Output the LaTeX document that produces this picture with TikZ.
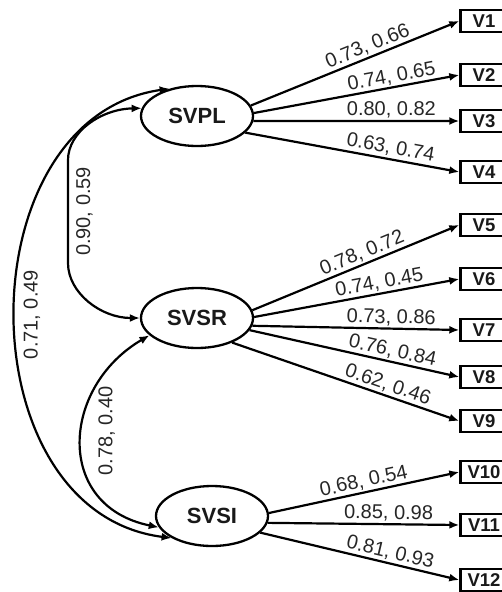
\documentclass[tikz,border=0pt]{standalone}
\usepackage{fontspec}
\setmainfont{Liberation Sans}
\usetikzlibrary{arrows.meta,shapes.geometric}

\begin{document}
\begin{tikzpicture}[
        x=1pt, y=1pt,
        >={Latex[length=10pt,width=8pt]},
        every node/.style={align=center},
        latent/.style={draw, ellipse, line width=2.3pt, minimum width=112pt, minimum height=60pt, inner sep=0pt, font=\fontsize{22}{24}\selectfont\bfseries, text=black!90},
        indicator/.style={draw, line width=2.4pt, minimum width=47pt, minimum height=22pt, inner sep=0pt, font=\fontsize{18.5}{20}\selectfont\bfseries, text=black!90},
        load/.style={->, line width=2.2pt},
        coef/.style={sloped, above, inner sep=1.5pt, text=black!85, font=\fontsize{20}{22}\selectfont},
        corr/.style={<->, line width=2.2pt},
        corrlabel/.style={rotate=90, anchor=north, inner sep=7pt, text=black!85, font=\fontsize{20}{22}\selectfont}
    ]
        \useasboundingbox (0,0) rectangle (502,-592);

        \node[latent] (SVPL) at (197,-116) {SVPL};
        \node[latent] (SVSR) at (197,-318) {SVSR};
        \node[latent] (SVSI) at (212,-516) {SVSI};

        \node[indicator] (V1) at (484,-21) {V1};
        \node[indicator] (V2) at (484,-75) {V2};
        \node[indicator] (V3) at (484,-121) {V3};
        \node[indicator] (V4) at (484,-172) {V4};
        \node[indicator] (V5) at (484,-225) {V5};
        \node[indicator] (V6) at (484,-279) {V6};
        \node[indicator] (V7) at (484,-330) {V7};
        \node[indicator] (V8) at (484,-377) {V8};
        \node[indicator] (V9) at (484,-421) {V9};
        \node[indicator] (V10) at (484,-472) {V10};
        \node[indicator] (V11) at (484,-525) {V11};
        \node[indicator] (V12) at (484,-580) {V12};

        % loadings
        \draw[load] (SVPL.11) -- node[coef, pos=0.58] {0.73, 0.66} (V1.west);
        \draw[load] (SVPL.3) -- node[coef, pos=0.68] {0.74, 0.65} (V2.west);
        \draw[load] (SVPL.-5) -- node[coef, pos=0.67] {0.80, 0.82} (V3.west);
        \draw[load] (SVPL.-19) -- node[coef, pos=0.67] {0.63, 0.74} (V4.west);

        \draw[load] (SVSR.8) -- node[coef, pos=0.55] {0.78, 0.72} (V5.west);
        \draw[load] (SVSR.1) -- node[coef, pos=0.62] {0.74, 0.45} (V6.west);
        \draw[load] (SVSR.-8) -- node[coef, pos=0.67] {0.73, 0.86} (V7.west);
        \draw[load] (SVSR.-13) -- node[coef, pos=0.67] {0.76, 0.84} (V8.west);
        \draw[load] (SVSR.-35) -- node[coef, pos=0.67] {0.62, 0.46} (V9.west);

        \draw[load] (SVSI.3) -- node[coef, pos=0.51] {0.68, 0.54} (V10.west);
        \draw[load] (SVSI.-7) -- node[coef, pos=0.63] {0.85, 0.98} (V11.west);
        \draw[load] (SVSI.-19) -- node[coef, pos=0.64] {0.81, 0.93} (V12.west);

        % correlations
        \draw[corr] (SVPL.172) .. controls (101,-109) and (68,-132) .. (68,-160)
            -- node[corrlabel] {0.90, 0.59} (68,-263)
            .. controls (68,-293) and (101,-318) .. (SVSR.west);
        \draw[corr] (SVSR.200) .. controls (61,-387) and (54,-506) .. node[corrlabel, inner sep=15pt, pos=0.45] {0.78, 0.40} (SVSI.192);
        \draw[corr] (SVPL.135) .. controls (-36,-118) and (-36,-512) .. node[corrlabel, inner sep=7pt] {0.71, 0.49} (SVSI.south west);
    \end{tikzpicture}
\end{document}
